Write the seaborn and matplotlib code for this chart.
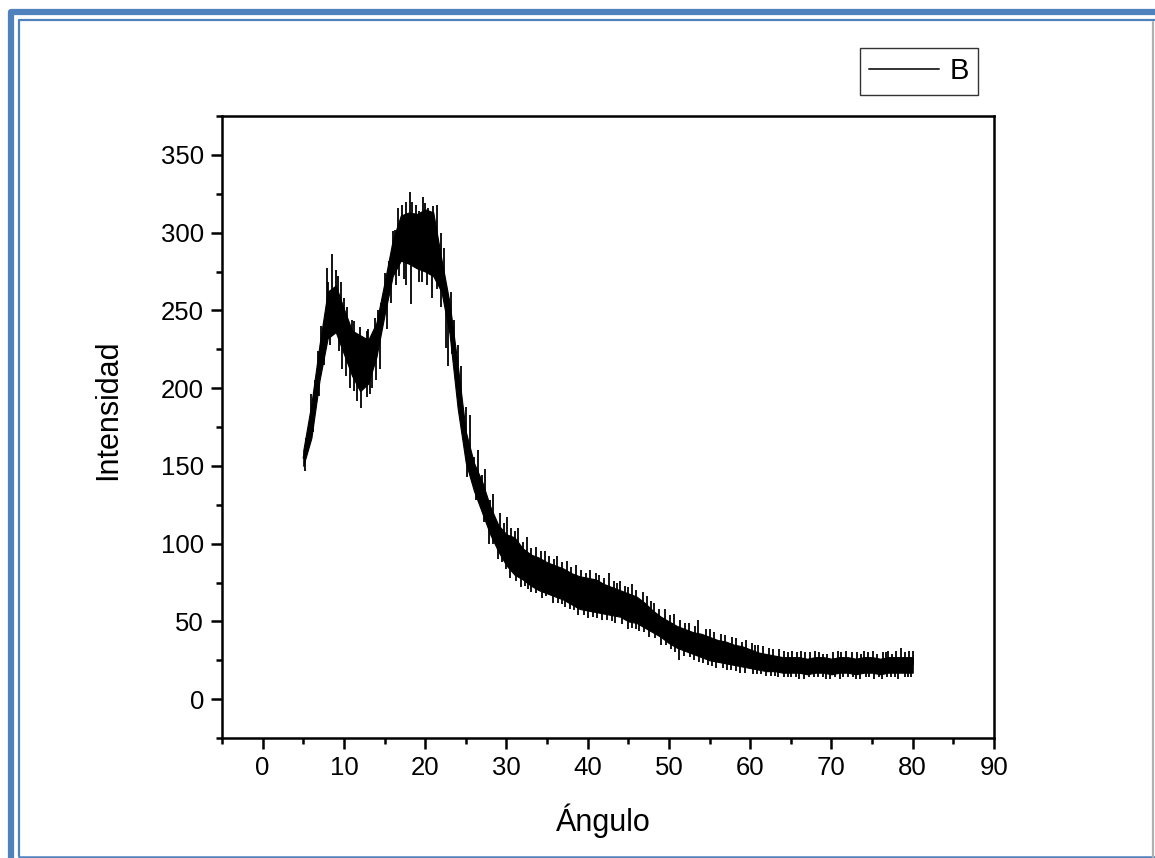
import numpy as np
import pandas as pd
import matplotlib.pyplot as plt
import seaborn as sns
from matplotlib.ticker import MultipleLocator
from matplotlib.lines import Line2D

# Band of the diffractogram at 1 degree steps
angle = list(range(5, 81))
upper = [160, 190, 228, 262, 266, 251, 237, 234, 231, 242,
         268, 295, 311, 313, 312, 315, 313, 283, 255, 215,
         172, 152, 140, 124, 112, 106, 104, 97, 93, 91,
         88, 86, 84, 81, 79, 78, 77, 74, 72, 70,
         68, 66, 62, 57, 53, 50, 47, 45, 43, 42,
         40, 38, 37, 35, 34, 32, 30, 29, 28, 27,
         27, 27, 26, 27, 27, 26, 27, 27, 26, 27,
         27, 26, 27, 27, 27, 27]
lower = [150, 168, 205, 232, 236, 222, 208, 198, 203, 220,
         247, 272, 282, 280, 277, 275, 272, 262, 235, 187,
         152, 134, 120, 106, 95, 86, 80, 77, 73, 70,
         68, 66, 64, 61, 58, 57, 56, 55, 54, 53,
         50, 49, 46, 43, 40, 36, 33, 31, 29, 27,
         25, 24, 23, 22, 21, 20, 19, 18, 18, 17,
         17, 17, 16, 17, 17, 16, 17, 17, 16, 17,
         17, 16, 17, 17, 17, 17]

# Noise spikes sticking out of the band (angle, intensity)
spike_up_x = [5.3, 6.4, 7.2, 7.9, 8.5, 9.0, 9.6, 10.4, 11.3, 12.0, 12.8, 13.8,
              14.6, 15.5, 16.3, 17.1, 17.6, 18.1, 18.9, 19.3, 19.7, 20.4, 21.0,
              21.5, 22.3, 23.2, 24.0, 25.5, 26.5, 27.4, 28.4, 29.2, 30.1, 31.4,
              32.5, 33.6, 34.7, 36.2, 37.5, 38.6, 40.3, 41.4, 42.6, 44.0, 45.4,
              46.8, 48.2, 49.5, 50.6, 52.0, 53.6, 55.0, 56.4, 57.8, 59.5, 61.0,
              62.3, 63.6, 65.2, 66.7, 68.0, 69.4, 70.8, 72.5, 74.0, 75.6, 77.0,
              78.5, 79.6,
              26.0, 27.0, 28.0, 29.7, 30.6, 31.0, 32.0, 33.0, 34.2, 35.2, 35.8,
              36.8, 38.0, 39.2, 39.8, 41.0, 42.0, 43.2, 43.6, 44.6, 45.0, 46.0,
              47.3, 47.8, 48.8, 50.1, 51.4, 52.5, 53.2, 54.5, 55.5, 56.9, 58.3,
              59.0, 60.2, 60.6, 61.6, 62.8, 64.1, 64.6, 65.8, 66.2, 67.3, 68.5,
              69.0, 70.2, 71.2, 71.8, 73.2, 73.6, 74.5, 75.1, 76.3, 76.7, 77.5,
              78.0, 79.0, 80.0,
              6.0, 6.8, 8.0, 9.3, 10.0, 11.0, 13.0, 14.2, 15.0, 16.0, 16.7,
              18.4, 20.0, 22.0, 23.6, 24.4, 25.0]
spike_up_y = [168, 205, 240, 277, 286, 276, 268, 252, 243, 239, 237, 245,
              255, 282, 302, 318, 320, 326, 318, 314, 323, 316, 317,
              318, 290, 262, 228, 183, 160, 148, 132, 120, 117, 110,
              104, 98, 95, 92, 89, 86, 83, 80, 81, 76, 74,
              69, 62, 58, 55, 49, 51, 45, 42, 40, 38, 35,
              33, 32, 31, 30, 31, 29, 31, 30, 31, 29, 31,
              33, 31,
              156, 144, 128, 113, 110, 108, 101, 97, 95, 92, 90,
              88, 85, 83, 81, 81, 78, 76, 75, 73, 72, 70,
              66, 63, 58, 54, 51, 49, 47, 45, 43, 41, 39,
              37, 36, 35, 34, 32, 31, 30, 30, 31, 30, 30,
              29, 30, 30, 31, 30, 29, 30, 31, 30, 30, 29,
              31, 30, 31,
              196, 224, 268, 272, 258, 244, 238, 250, 274, 301, 316,
              320, 319, 300, 244, 214, 188]
spike_dn_x = [6.9, 8.3, 9.4, 10.2, 10.8, 11.6, 12.1, 12.9, 13.5, 14.4, 15.3,
              16.8, 17.7, 18.3, 19.2, 20.2, 20.9, 21.5, 22.6, 22.8, 24.6, 25.2,
              26.2, 27.8, 29.0, 30.5, 31.8, 33.0, 34.4, 35.7, 37.2, 38.8, 40.1,
              41.8, 43.4, 44.9, 46.3, 47.6, 49.0, 50.3, 51.2, 52.6, 54.2, 55.8,
              57.1, 58.7, 60.3, 61.9, 63.4, 65.0, 66.6, 68.3, 69.8, 71.4, 73.0,
              74.6, 76.2, 77.8, 79.4,
              26.6, 27.2, 28.4, 29.5, 30.0, 31.2, 32.3, 32.7, 33.7, 34.9, 36.3,
              36.9, 37.8, 38.3, 39.5, 40.7, 41.2, 42.4, 43.0, 44.2, 45.5, 46.0,
              46.9, 48.3, 49.6, 50.8, 51.8, 53.1, 53.7, 54.8, 55.3, 56.6, 57.6,
              58.2, 59.3, 60.8, 61.3, 62.5, 63.0, 64.2, 64.6, 65.6, 66.0, 67.2,
              67.8, 68.9, 69.3, 70.4, 71.0, 72.0, 72.6, 73.5, 74.2, 75.2, 75.8,
              76.8, 77.3, 78.2, 79.0, 79.8,
              5.2, 6.2, 7.6, 9.8, 11.2, 13.2, 14.0, 15.8, 16.4, 17.4, 19.6,
              21.9, 23.3, 24.0]
spike_dn_y = [195, 228, 224, 208, 200, 192, 187, 194, 200, 212, 238,
              272, 266, 254, 268, 266, 258, 264, 226, 214, 178, 143,
              128, 100, 90, 78, 72, 69, 65, 62, 59, 54, 52,
              51, 49, 45, 44, 40, 35, 32, 25, 27, 23, 20,
              19, 17, 16, 15, 14, 14, 13, 14, 13, 14, 13,
              14, 13, 14, 14,
              126, 114, 100, 88, 84, 76, 73, 71, 68, 66, 62,
              61, 58, 57, 54, 53, 52, 51, 50, 48, 46, 45,
              43, 39, 35, 30, 28, 25, 24, 22, 21, 20, 19,
              18, 17, 16, 16, 15, 15, 14, 14, 14, 13, 14,
              14, 14, 13, 14, 13, 14, 14, 13, 14, 13, 14,
              14, 14, 13, 14, 14,
              147, 172, 215, 212, 198, 196, 205, 255, 266, 270, 268,
              252, 222, 196]

sns.set_style("ticks")
plt.rcParams['font.family'] = ['Liberation Sans', 'DejaVu Sans']
plt.rcParams['text.color'] = 'black'
plt.rcParams['axes.labelcolor'] = 'black'

W, H = 1155, 858
fig = plt.figure(figsize=(W / 100, H / 100), dpi=100)
ax = fig.add_axes([222 / W, 1 - 738 / H, 772 / W, 622 / H])

df = pd.DataFrame({'angle': angle, 'upper': upper, 'lower': lower})
df['mid'] = (df['upper'] + df['lower']) / 2

sns.lineplot(data=df, x='angle', y='mid', color='black', lw=1.0, label='B', ax=ax)
ax.fill_between(df['angle'], df['lower'], df['upper'], color='black', lw=0.8,
                edgecolor='black')
base_up = np.interp(spike_up_x, df['angle'], df['mid'])
base_dn = np.interp(spike_dn_x, df['angle'], df['mid'])
ax.vlines(spike_up_x, base_up, spike_up_y, color='black', lw=1.3)
ax.vlines(spike_dn_x, spike_dn_y, base_dn, color='black', lw=1.3)

ax.set_xlim(-5, 90)
ax.set_ylim(-25, 375)
ax.xaxis.set_major_locator(MultipleLocator(10))
ax.xaxis.set_minor_locator(MultipleLocator(5))
ax.yaxis.set_major_locator(MultipleLocator(50))
ax.yaxis.set_minor_locator(MultipleLocator(25))
ax.tick_params(which='major', direction='out', length=8, width=1.8,
               labelsize=18.5, pad=5, colors='black')
ax.tick_params(which='minor', direction='out', length=4.5, width=1.8,
               colors='black')
for sp in ax.spines.values():
    sp.set_visible(True)
    sp.set_linewidth(1.8)
    sp.set_color('black')

ax.set_xlabel('Ángulo', fontsize=22)
ax.set_ylabel('Intensidad', fontsize=22)
ax.xaxis.set_label_coords(0.494, -0.105)
ax.yaxis.set_label_coords(-0.128, 0.527)
ax.xaxis.label.set_va('top')

leg = ax.legend(loc='upper left', bbox_to_anchor=(860 / W, 1 - 48 / H),
                bbox_transform=fig.transFigure, borderaxespad=0,
                fontsize=21, frameon=True, fancybox=False, handlelength=2.4,
                handletextpad=0.35, borderpad=0.32)
leg.get_frame().set_edgecolor('black')
leg.get_frame().set_linewidth(1.0)
leg.get_lines()[0].set_color('#333333')
leg.get_lines()[0].set_linewidth(1.4)

# page frame around the picture
blue = '#4F81BD'
def px_line(xs, ys, color, lw):
    fig.add_artist(Line2D([x / W for x in xs], [1 - y / H for y in ys],
                          transform=fig.transFigure, color=color, lw=lw,
                          solid_capstyle='round'))

px_line([11, 11, 1160], [870, 12, 12], blue, 4.5)
px_line([18.5, 18.5, 1160], [856, 20, 20], blue, 1.6)
px_line([18.5, 1160], [856.5, 856.5], blue, 1.8)
px_line([1152.5, 1152.5], [22, 858], '#b0b0b0', 1.6)

fig.savefig('out.png', dpi=100)
